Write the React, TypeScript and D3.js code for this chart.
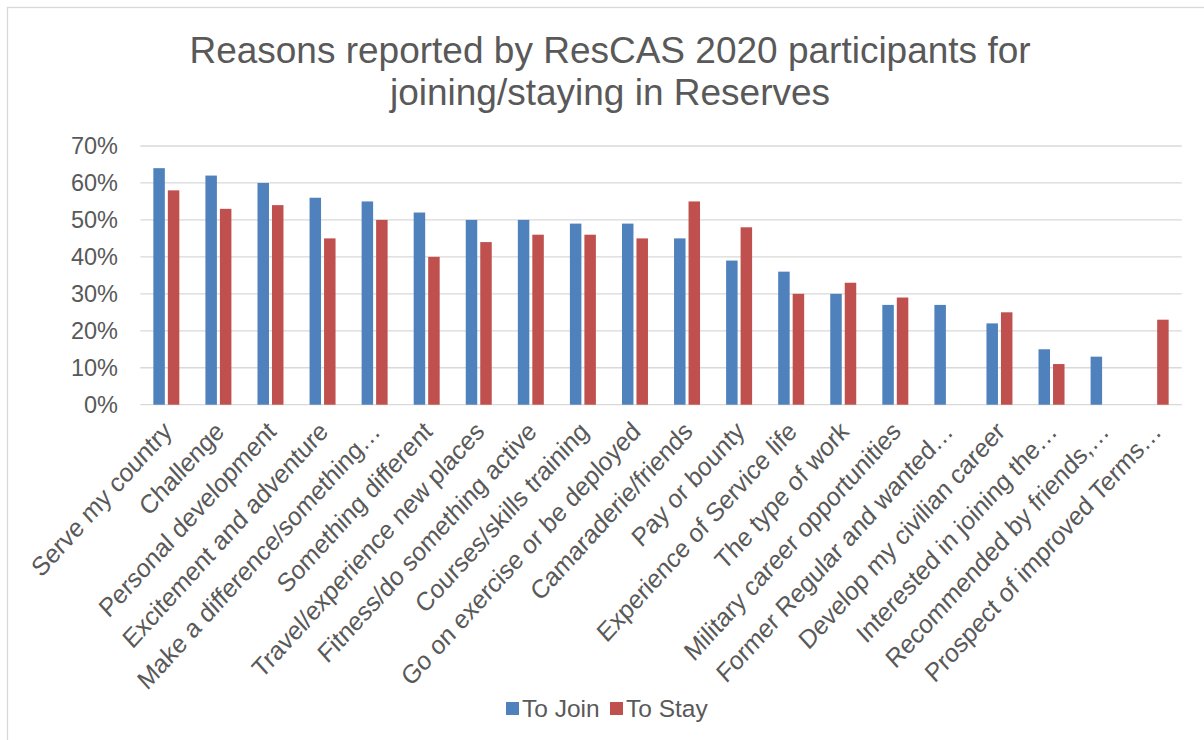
import React from "react";
import * as d3 from "d3";

const categories = [
  "Serve my country",
  "Challenge",
  "Personal development",
  "Excitement and adventure",
  "Make a difference/something…",
  "Something different",
  "Travel/experience new places",
  "Fitness/do something active",
  "Courses/skills training",
  "Go on exercise or be deployed",
  "Camaraderie/friends",
  "Pay or bounty",
  "Experience of Service life",
  "The type of work",
  "Military career opportunities",
  "Former Regular and wanted…",
  "Develop my civilian career",
  "Interested in joining the…",
  "Recommended by friends,…",
  "Prospect of improved Terms…",
];

const toJoin: (number | null)[] = [64, 62, 60, 56, 55, 52, 50, 50, 49, 49, 45, 39, 36, 30, 27, 27, 22, 15, 13, null];
const toStay: (number | null)[] = [58, 53, 54, 45, 50, 40, 44, 46, 46, 45, 55, 48, 30, 33, 29, null, 25, 11, null, 23];

const seriesNames = ["To Join", "To Stay"];
const seriesColors = ["#4F81BD", "#C0504D"];
const yTicks = [0, 10, 20, 30, 40, 50, 60, 70];

const titleLines = ["Reasons reported by ResCAS 2020 participants for", "joining/staying in Reserves"];

const W = 1204;
const H = 740;
const TEXT = "#595959";
const FONT = "'Liberation Sans', Arial, sans-serif";
const LABEL = 23.5;
const CAT = 24;

export default function App() {
  const x = d3.scaleBand<string>().domain(categories).range([140.3, 1181.7]).paddingInner(0).paddingOuter(0);
  const xSub = d3.scaleBand<string>().domain(seriesNames).range([0, x.bandwidth()]).paddingInner(0.207).paddingOuter(0.9);
  const y = d3.scaleLinear().domain([0, 70]).range([404.7, 146]);
  const series = [toJoin, toStay];

  return (
    <svg
      width={W}
      height={H}
      style={{ position: "absolute", left: 0, top: 0, display: "block", background: "#fff" }}
      fontFamily={FONT}
    >
      <rect x={7.5} y={7.5} width={W} height={H} fill="#fff" stroke="#d9d9d9" strokeWidth={1.3} />
      {titleLines.map((t, i) => (
        <text key={i} x={610} y={63 + i * 42} textAnchor="middle" fontSize={37} fill={TEXT}>
          {t}
        </text>
      ))}
      {yTicks.map((t) => (
        <g key={t}>
          <line x1={x.range()[0]} x2={x.range()[1]} y1={y(t)} y2={y(t)} stroke="#d9d9d9" strokeWidth={1.3} />
          <text x={118} y={y(t)} dy="0.35em" textAnchor="end" fontSize={LABEL} fill={TEXT}>
            {d3.format(".0%")(t / 100)}
          </text>
        </g>
      ))}
      {categories.map((c, ci) => (
        <g key={c}>
          {series.map((s, si) => {
            const v = s[ci];
            if (v == null) return null;
            return (
              <rect
                key={si}
                x={(x(c) as number) + (xSub(seriesNames[si]) as number)}
                y={y(v)}
                width={xSub.bandwidth()}
                height={y(0) - y(v)}
                fill={seriesColors[si]}
              />
            );
          })}
        </g>
      ))}
      {categories.map((c) => {
        const cx = (x(c) as number) + x.bandwidth() / 2;
        return (
          <text
            key={c}
            transform={`translate(${cx + 7},${433}) scale(1,1.1) rotate(-45)`}
            textAnchor="end"
            fontSize={CAT}
            fill={TEXT}
          >
            {c}
          </text>
        );
      })}
      {seriesNames.map((n, i) => {
        const lx = [506, 610][i];
        return (
          <g key={n}>
            <rect x={lx} y={702} width={13} height={13} fill={seriesColors[i]} />
            <text x={lx + 16} y={708.5} dy="0.35em" fontSize={24.5} fill={TEXT}>
              {n}
            </text>
          </g>
        );
      })}
    </svg>
  );
}
